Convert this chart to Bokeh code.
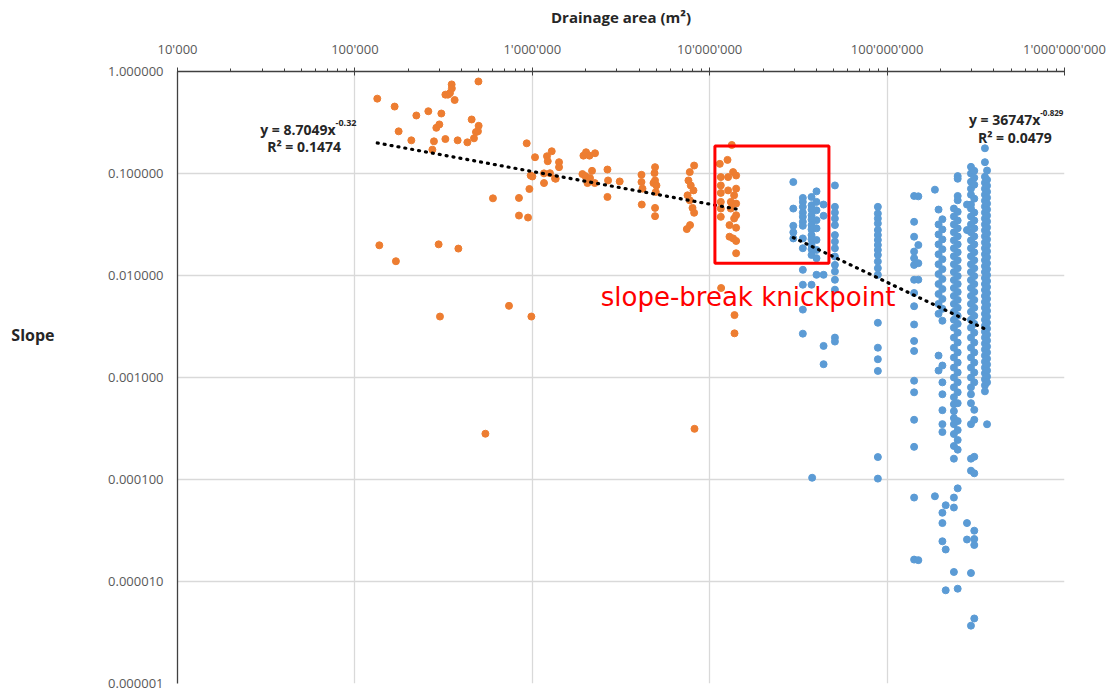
from bokeh.plotting import figure
from bokeh.models import FixedTicker, CustomJSTickFormatter, Label, ColumnDataSource, LogAxis
from bokeh.embed import file_html
from bokeh.resources import INLINE

# ---------------------------------------------------------------------------
# Upstream reach (orange): drainage area (m2) and channel slope
orange_area = [
    1.337e5, 1.675e5, 1.764e5, 2.08e5, 2.22e5, 2.594e5, 2.733e5, 2.79e5, 2.878e5, 2.992e5,
    3.071e5, 3.236e5, 3.236e5, 3.346e5, 3.434e5, 3.511e5, 3.52e5, 3.65e5, 3.795e5, 4.305e5,
    4.551e5, 4.69e5, 4.813e5, 4.939e5, 4.984e5, 4.97e5, 9.3e5, 1.036e6, 9.79e5, 1.001e6,
    9.63e5, 6.0e5, 8.41e5, 8.41e5, 9.46e5, 1.373e5, 2.965e5, 3.83e5, 1.703e5, 1.164e6,
    1.355e6, 2.652e6, 4.14e6, 4.92e6, 4.92e6, 7.43e6, 7.75e6, 8.0e6, 8.17e6, 1.16e7,
    7.39e5, 3.017e5, 9.88e5, 1.38e7, 1.38e7, 5.44e5, 8.21e6, 1.21e6, 1.222e6, 1.287e6,
    1.415e6, 1.415e6, 1.164e6, 1.258e6, 1.343e6, 1.942e6, 2.009e6, 2.10e6, 2.258e6, 1.917e6,
    1.993e6, 2.171e6, 2.115e6, 2.249e6, 2.046e6, 2.652e6, 2.673e6, 3.11e6, 4.125e6, 4.125e6,
    4.18e6, 4.92e6, 4.885e6, 4.92e6, 4.966e6, 4.82e6, 5.01e6, 8.17e6, 7.72e6, 7.59e6,
    7.82e6, 8.1e6, 7.5e6, 7.72e6,
    1.14e7, 1.26e7, 1.332e7, 1.155e7, 1.155e7, 1.155e7, 1.155e7, 1.155e7, 1.155e7, 1.27e7,
    1.27e7, 1.315e7, 1.315e7, 1.355e7, 1.409e7, 1.409e7, 1.373e7, 1.409e7, 1.409e7, 1.373e7,
    1.293e7, 1.409e7, 1.293e7, 1.355e7, 1.409e7, 1.409e7,
]
orange_slope = [
    0.542, 0.453, 0.259, 0.2114, 0.3704, 0.4078, 0.1713, 0.2067, 0.2805, 0.3027,
    0.3874, 0.2177, 0.593, 0.593, 0.6147, 0.747, 0.683, 0.5254, 0.2114, 0.2021,
    0.3386, 0.2212, 0.2547, 0.259, 0.2934, 0.799, 0.1977, 0.1444, 0.0956, 0.0935,
    0.0705, 0.0571, 0.0576, 0.0387, 0.037, 0.01977, 0.0202, 0.01836, 0.0138, 0.0806,
    0.0888, 0.0589, 0.0496, 0.046, 0.0382, 0.0285, 0.0312, 0.046, 0.0412, 0.00754,
    0.00504, 0.00396, 0.00396, 0.00409, 0.00271, 0.000281, 0.000314, 0.1477, 0.132, 0.1652,
    0.1291, 0.1154, 0.1003, 0.1007, 0.0894, 0.1497, 0.1616, 0.1497, 0.158, 0.0987,
    0.0943, 0.1062, 0.0902, 0.0806, 0.0806, 0.1094, 0.0855, 0.0836, 0.0971, 0.0825,
    0.071, 0.1154, 0.1009, 0.0855, 0.0659, 0.0806, 0.0764, 0.1197, 0.1032, 0.0855,
    0.0764, 0.0683, 0.0611, 0.0546,
    0.1243, 0.136, 0.1904, 0.0922, 0.0764, 0.0645, 0.0527, 0.0453, 0.0376, 0.0922,
    0.0683, 0.0527, 0.0453, 0.1032, 0.0956, 0.071, 0.0611, 0.0507, 0.039, 0.0362,
    0.0312, 0.0294, 0.024, 0.0231, 0.0218, 0.01652,
]

# Downstream reach (blue): sampled in columns of nearly equal drainage area
blue_a_area, blue_a_slope = 2.96e7, [0.0825, 0.0453, 0.0307, 0.0265, 0.0231]
blue_b_area, blue_b_slope = 3.35e7, [0.0576, 0.0527, 0.0471, 0.0414, 0.0376, 0.0336, 0.0307,
                                     0.0231, 0.0185, 0.01136, 0.00812, 0.00463, 0.00269]
blue_c1_area, blue_c1_slope = 3.75e7, [0.0589, 0.0488, 0.0443, 0.039, 0.0354, 0.0312, 0.0283,
                                       0.0249, 0.0226, 0.0199, 0.0181, 0.0159, 0.00812]
blue_c2_area, blue_c2_slope = 4.0e7, [0.0668, 0.0527, 0.0436, 0.0349, 0.029, 0.0223, 0.0178,
                                      0.0148, 0.01016]
blue_c3_area, blue_c3_slope = 3.78e7, [0.000104]
blue_d_area, blue_d_slope = 4.385e7, [0.0496, 0.0385, 0.01016, 0.00204, 0.00135]
blue_e_area, blue_e_slope = 5.08e7, [0.0764, 0.0471, 0.0414, 0.0362, 0.0312, 0.0249, 0.0215,
                                     0.0185, 0.01535, 0.0127, 0.01096, 0.00908, 0.00726,
                                     0.00246, 0.00225]
blue_f_area, blue_f_slope = 8.87e7, [0.0471, 0.0405, 0.0362, 0.0324, 0.0279, 0.0249, 0.0223,
                                     0.0199, 0.0178, 0.0159, 0.01372, 0.0118, 0.01016,
                                     0.00344, 0.00196, 0.00151, 0.00116, 0.000166, 0.000102]
blue_g1_area, blue_g1_slope = 1.42e8, [0.0602, 0.0336, 0.024, 0.01717, 0.0148, 0.0127, 0.00908,
                                       0.00674, 0.005, 0.00331, 0.00228, 0.00182, 0.00093,
                                       0.000716, 0.000385, 0.000209, 0.0000665, 0.0000164]
blue_g2_area, blue_g2_slope = 1.5e8, [0.0597, 0.0199, 0.0132, 0.0091, 0.0000162]
blue_h0_area, blue_h0_slope = 1.86e8, [0.0694, 0.0000685]
blue_h1_area, blue_h1_slope = 1.95e8, [0.0443, 0.0317, 0.0253, 0.0202, 0.01616, 0.0129, 0.01032,
                                       0.00825, 0.00659, 0.00527, 0.00421, 0.00164, 0.00117]
blue_h2_area, blue_h2_slope = 2.05e8, [0.0356, 0.0283, 0.0226, 0.0181, 0.01444, 0.01154, 0.00922,
                                       0.00737, 0.00589, 0.00471, 0.0036, 0.00131, 0.000896,
                                       0.000685, 0.000478, 0.000349, 0.000292, 0.0000472,
                                       0.0000374, 0.0000248]
blue_h3_area, blue_h3_slope = 2.14e8, [0.0000559, 0.0000206, 0.0000082]
blue_i1_area, blue_i1_slope = 2.38e8, [0.0453, 0.0379, 0.0317, 0.0265, 0.0221, 0.0185, 0.01545,
                                       0.0129, 0.0108, 0.00902, 0.00754, 0.0063, 0.00527, 0.0044,
                                       0.00368, 0.00308, 0.00246, 0.00196, 0.00157, 0.00125,
                                       0.001, 0.000801, 0.00064, 0.000547, 0.000468, 0.0004,
                                       0.000349, 0.000279, 0.000213, 0.00016, 0.0000665,
                                       0.0000531, 0.0000124]
blue_i2_area, blue_i2_slope = 2.5e8, [0.0943, 0.0888, 0.0602, 0.0546, 0.0421, 0.0346, 0.029,
                                      0.0242, 0.0202, 0.0169, 0.01413, 0.0118, 0.00987, 0.00825,
                                      0.00689, 0.00576, 0.00482, 0.00402, 0.00336, 0.00275,
                                      0.0022, 0.00176, 0.0014, 0.00112, 0.000896, 0.000716,
                                      0.00056, 0.000374, 0.000305, 0.000244, 0.000196,
                                      0.0000819, 0.0000085]
blue_j1_area, blue_j1_slope = 2.97e8, [0.1162, 0.1, 0.083, 0.071, 0.062, 0.0496, 0.0453, 0.0379,
                                       0.0317, 0.0265, 0.0221, 0.0185, 0.01545, 0.0129, 0.0108,
                                       0.00902, 0.00754, 0.0063, 0.00527, 0.0044, 0.00368,
                                       0.00308, 0.00246, 0.00196, 0.00157, 0.00125, 0.001,
                                       0.000801, 0.000685, 0.00056, 0.000349, 0.00016, 0.000122,
                                       0.0000121, 0.00000369]
blue_j2_area, blue_j2_slope = 3.1e8, [0.1062, 0.0908, 0.0776, 0.0567, 0.0414, 0.0346, 0.029,
                                      0.0242, 0.0202, 0.0169, 0.01413, 0.0118, 0.00987, 0.00825,
                                      0.00689, 0.00576, 0.00482, 0.00402, 0.00336, 0.00275,
                                      0.0022, 0.00176, 0.0014, 0.00112, 0.000896, 0.000482,
                                      0.000385, 0.000167, 0.000115, 0.0000315, 0.0000261,
                                      0.0000228, 0.00000434]
blue_j3_area, blue_j3_slope = 2.82e8, [0.0496, 0.0279, 0.0000374, 0.0000258]
blue_k1_area, blue_k1_slope = 3.56e8, [0.1768, 0.1291, 0.0929, 0.0812, 0.071, 0.062, 0.0542,
                                       0.0474, 0.0414, 0.0362, 0.0317, 0.0277, 0.0242, 0.0211,
                                       0.0185, 0.01616, 0.01413, 0.01235, 0.0108, 0.00944,
                                       0.00825, 0.00721, 0.0063, 0.00551, 0.00482, 0.00421,
                                       0.00368, 0.00322, 0.00281, 0.00246, 0.00215, 0.00188,
                                       0.00164, 0.00143, 0.00125, 0.0011, 0.00096, 0.000838,
                                       0.000732]
blue_k2_area, blue_k2_slope = 3.66e8, [0.107, 0.0868, 0.0759, 0.0663, 0.058, 0.0507, 0.0443,
                                       0.0387, 0.0339, 0.0296, 0.0259, 0.0226, 0.01977, 0.01729,
                                       0.0151, 0.0132, 0.01154, 0.01009, 0.00882, 0.00771,
                                       0.00674, 0.00589, 0.00515, 0.0045, 0.00394, 0.00344,
                                       0.00301, 0.00263, 0.0023, 0.00201, 0.00176, 0.00153,
                                       0.00134, 0.00117, 0.00102, 0.000896, 0.000348]

# Power-law fits (coefficient, exponent) and their R2
orange_fit = (8.7049, -0.32, "0.1474")
blue_fit = (36747.0, -0.829, "0.0479")

# Knickpoint box (area and slope bounds)
knick_left, knick_right = 1.07e7, 4.7e7
knick_bottom, knick_top = 0.0132, 0.186

# Axis ticks
x_ticks = [1e4, 1e5, 1e6, 1e7, 1e8, 1e9]
y_ticks = [1e-6, 1e-5, 1e-4, 1e-3, 1e-2, 1e-1, 1.0]
# ---------------------------------------------------------------------------

blue_columns = [
    (blue_a_area, blue_a_slope), (blue_b_area, blue_b_slope), (blue_c1_area, blue_c1_slope),
    (blue_c2_area, blue_c2_slope), (blue_c3_area, blue_c3_slope), (blue_d_area, blue_d_slope),
    (blue_e_area, blue_e_slope), (blue_f_area, blue_f_slope), (blue_g1_area, blue_g1_slope),
    (blue_g2_area, blue_g2_slope), (blue_h0_area, blue_h0_slope), (blue_h1_area, blue_h1_slope),
    (blue_h2_area, blue_h2_slope), (blue_h3_area, blue_h3_slope), (blue_i1_area, blue_i1_slope),
    (blue_i2_area, blue_i2_slope), (blue_j1_area, blue_j1_slope), (blue_j2_area, blue_j2_slope),
    (blue_j3_area, blue_j3_slope), (blue_k1_area, blue_k1_slope), (blue_k2_area, blue_k2_slope),
]
blue_area, blue_slope = [], []
for a, slopes in blue_columns:
    blue_area += [a] * len(slopes)
    blue_slope += slopes

ORANGE = "#ED7D31"
BLUE = "#5B9BD5"
GRID = "#D9D9D9"
TICK_TEXT = "#595959"
DARK = "#262626"

p = figure(
    width=1112, height=694,
    x_axis_type="log", y_axis_type="log",
    x_range=(1e4, 1e9), y_range=(1e-6, 1.0),
    x_axis_location="above",
    output_backend="svg", toolbar_location=None,
    min_border_left=177, min_border_right=48, min_border_top=71, min_border_bottom=11,
    background_fill_color="white", border_fill_color="white",
)
p.outline_line_color = None

# top axis (drainage area)
minor_x = [k * 10 ** e for e in range(4, 9) for k in range(2, 10)]
xt = FixedTicker(ticks=x_ticks, minor_ticks=minor_x)
xax = p.xaxis[0]
xax.ticker = xt
xax.formatter = CustomJSTickFormatter(
    code=r"""return Math.round(tick).toString().replace(/\B(?=(\d{3})+(?!\d))/g, "'");""")
xax.axis_label = "Drainage area (m²)"
xax.axis_label_text_font = "Open Sans"
xax.axis_label_text_font_style = "bold"
xax.axis_label_text_font_size = "15px"
xax.axis_label_text_color = DARK
xax.axis_label_standoff = 10
xax.major_label_text_font = "Open Sans"
xax.major_label_text_font_size = "13px"
xax.major_label_text_color = TICK_TEXT
xax.major_label_standoff = 10
xax.axis_line_color = "#404040"
xax.axis_line_width = 1.3
xax.major_tick_line_color = "#404040"
xax.major_tick_out = 4
xax.major_tick_in = 4
xax.minor_tick_line_color = "#404040"
xax.minor_tick_out = 3
xax.minor_tick_in = 0

# left axis (slope)
yt = FixedTicker(ticks=y_ticks, minor_ticks=[])
yax = p.yaxis[0]
yax.ticker = yt
yax.formatter = CustomJSTickFormatter(code="return tick.toFixed(6);")
yax.major_label_text_font = "Open Sans"
yax.major_label_text_font_size = "13px"
yax.major_label_text_color = TICK_TEXT
yax.major_label_standoff = 14
yax.major_tick_out = 0
yax.major_tick_in = 0
yax.minor_tick_line_color = None
yax.axis_line_color = "#404040"
yax.axis_line_width = 1.3

# y-axis title, drawn as a single label sitting at slope 0.00263 left of the tick labels
slope_title_at = 0.00263
title_axis = LogAxis(
    ticker=FixedTicker(ticks=[slope_title_at], minor_ticks=[]),
    formatter=CustomJSTickFormatter(code='return "Slope";'),
    axis_line_color=None, major_tick_line_color=None, minor_tick_line_color=None,
    major_label_text_font="Open Sans", major_label_text_font_style="bold",
    major_label_text_font_size="16px", major_label_text_color=DARK,
    major_label_standoff=45,
)
p.add_layout(title_axis, "left")

p.xgrid.ticker = xt
p.ygrid.ticker = yt
p.xgrid.grid_line_color = GRID
p.ygrid.grid_line_color = GRID
p.xgrid.grid_line_width = 1.3
p.ygrid.grid_line_width = 1.3

# scatter points
src_o = ColumnDataSource(dict(area=orange_area, slope=orange_slope))
src_b = ColumnDataSource(dict(area=blue_area, slope=blue_slope))
p.scatter("area", "slope", source=src_o, size=7, color=ORANGE, line_color=ORANGE)
p.scatter("area", "slope", source=src_b, size=7, color=BLUE, line_color=BLUE)

# dotted power-law trendlines over each reach
for areas, (coef, expo, _) in ((orange_area, orange_fit), (blue_area, blue_fit)):
    xs = [min(areas), max(areas)]
    ys = [coef * x ** expo for x in xs]
    p.line(xs, ys, line_color="black", line_width=3.2, line_dash="1 6", line_cap="round")

# knickpoint box
p.quad(left=[knick_left], right=[knick_right], bottom=[knick_bottom], top=[knick_top],
       fill_color=None, line_color="#FF0000", line_width=3)

p.add_layout(Label(x=2.43e6, y=0.00616, text="slope-break knickpoint", text_color="#FF0000",
                   text_font="DejaVu Sans", text_font_size="26px",
                   text_align="left", text_baseline="middle"))

# trendline equations
def equation(x_end, y_mid, x_r2, y_r2, fit, sup_size):
    coef, expo, r2 = fit
    coef_txt = ("%.4f" % coef) if coef < 100 else ("%d" % round(coef))
    common = dict(text_font="Open Sans", text_font_style="bold", text_color=DARK)
    p.add_layout(Label(x=x_end, y=y_mid, text="y = %sx" % coef_txt, text_align="right",
                       text_baseline="middle", text_font_size="14px", **common))
    p.add_layout(Label(x=x_end, y=y_mid, text=("%g" % expo), text_align="left",
                       text_baseline="middle", y_offset=6, text_font_size=sup_size, **common))
    p.add_layout(Label(x=x_r2, y=y_r2, text="R² = %s" % r2, text_align="center",
                       text_baseline="middle", text_font_size="14px", **common))

equation(7.78e4, 0.272, 5.17e4, 0.182, orange_fit, "9px")
equation(7.30e8, 0.341, 5.25e8, 0.2277, blue_fit, "8px")

open("out.html", "w").write(file_html(p, INLINE))
